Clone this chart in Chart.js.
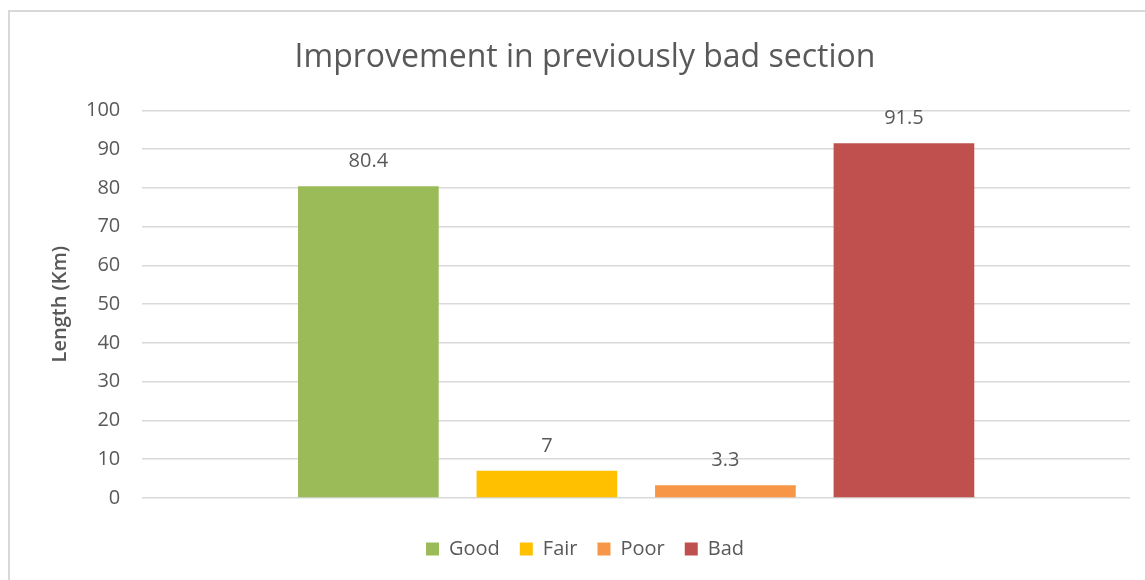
<!DOCTYPE html>
<html>
<head>
<meta charset="utf-8">
<script src="https://cdn.jsdelivr.net/npm/chart.js@4"></script>
<style>
  body { margin: 0; background: #fff; }
  #wrap { width: 1145px; height: 580px; }
</style>
</head>
<body>
<div id="wrap"><canvas id="canvas" width="1145" height="580"></canvas></div>
<script>
var categories = [''];
var seriesNames = ['Good', 'Fair', 'Poor', 'Bad'];
var seriesValues = [80.4, 7, 3.3, 91.5];
var seriesColors = ['#9BBB59', '#FFC000', '#F79646', '#C0504D'];
var yTicks = [0, 10, 20, 30, 40, 50, 60, 70, 80, 90, 100];

var font = "'Open Sans', 'Noto Sans', sans-serif";
var grey = '#595959';

var datasets = seriesNames.map(function (name, i) {
    return {
        label: name,
        data: [seriesValues[i]],
        backgroundColor: seriesColors[i],
        borderWidth: 0,
        categoryPercentage: 0.723,
        barPercentage: 0.788
    };
});

// light frame around the chart, like the spreadsheet chart box
var frame = {
    id: 'frame',
    beforeDraw: function (chart) {
        var ctx = chart.ctx;
        ctx.save();
        ctx.fillStyle = '#fff';
        ctx.fillRect(0, 0, chart.width, chart.height);
        ctx.strokeStyle = '#d9d9d9';
        ctx.lineWidth = 2;
        ctx.beginPath();
        ctx.moveTo(9, chart.height);
        ctx.lineTo(9, 11);
        ctx.lineTo(chart.width, 11);
        ctx.stroke();
        ctx.restore();
    }
};

// value labels above each bar
var valueLabels = {
    id: 'valueLabels',
    afterDatasetsDraw: function (chart) {
        var ctx = chart.ctx;
        ctx.save();
        ctx.font = '20px ' + font;
        ctx.fillStyle = grey;
        ctx.textAlign = 'center';
        ctx.textBaseline = 'middle';
        chart.data.datasets.forEach(function (ds, i) {
            chart.getDatasetMeta(i).data.forEach(function (bar, j) {
                ctx.fillText(String(ds.data[j]), bar.x, bar.y - 25);
            });
        });
        ctx.restore();
    }
};

new Chart(document.getElementById('canvas').getContext('2d'), {
    type: 'bar',
    data: { labels: categories, datasets: datasets },
    plugins: [frame, valueLabels],
    options: {
        responsive: false,
        animation: false,
        layout: { padding: { left: 40, right: 15, top: 35, bottom: 11 } },
        plugins: {
            title: {
                display: true,
                text: 'Improvement in previously bad section',
                color: grey,
                font: { family: font, size: 32, weight: 'normal' },
                padding: { top: 4, bottom: 33 }
            },
            legend: {
                position: 'bottom',
                labels: {
                    color: grey,
                    font: { family: font, size: 20 },
                    boxWidth: 13,
                    boxHeight: 13,
                    padding: 20
                }
            },
            tooltip: { enabled: false }
        },
        scales: {
            x: {
                grid: { display: false },
                border: { display: false },
                ticks: { display: false },
                afterFit: function (axis) { axis.height = 21; }
            },
            y: {
                min: 0,
                max: 100,
                afterBuildTicks: function (axis) {
                    axis.ticks = yTicks.map(function (v) { return { value: v }; });
                },
                grid: { color: '#d9d9d9', lineWidth: 1.5, drawTicks: false },
                border: { display: false },
                ticks: {
                    color: grey,
                    font: { family: font, size: 20 },
                    padding: 22
                },
                title: {
                    display: true,
                    text: 'Length (Km)',
                    color: grey,
                    font: { family: font, size: 20, weight: '600' },
                    padding: { top: 8, bottom: -8 }
                }
            }
        }
    }
});
</script>
</body>
</html>
